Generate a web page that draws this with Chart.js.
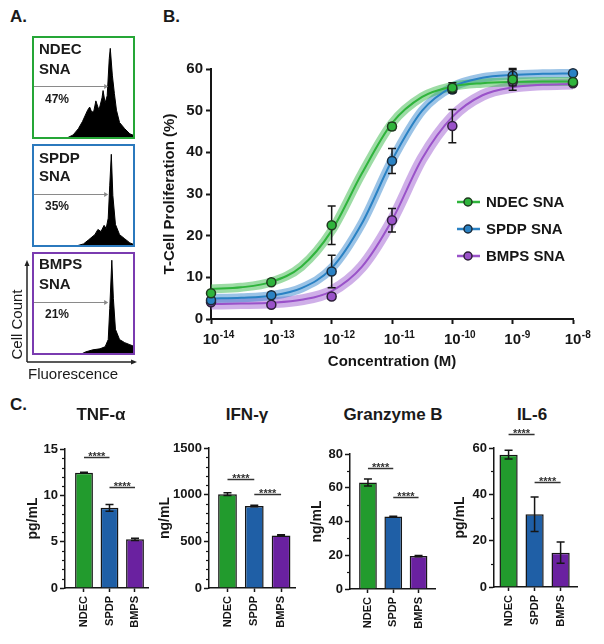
<!DOCTYPE html>
<html>
<head>
<meta charset="utf-8">
<title>SNA T-cell proliferation and cytokines</title>
<script src="https://cdn.jsdelivr.net/npm/chart.js@4.4.0/dist/chart.umd.min.js"></script>
<style>
  html, body { margin: 0; padding: 0; background: #fff; }
  body { position: relative; width: 604px; height: 644px; overflow: hidden; font-family: "Liberation Sans", Arial, sans-serif; color: #1a1a1a; }
  canvas { position: absolute; }
  .txt { position: absolute; font-weight: bold; line-height: 1; white-space: nowrap; }
  .box { position: absolute; box-sizing: border-box; border: 2px solid; left: 32px; width: 103px; height: 103px; z-index: 2; }
  .ctitle { position: absolute; font-weight: bold; font-size: 17px; line-height: 1; width: 140px; text-align: center; top: 406px; }
  .plain { position: absolute; font-size: 15px; line-height: 15px; white-space: nowrap; }
</style>
</head>
<body>
<div class="txt" style="left:10px;top:8px;font-size:17px">A.</div>
<div class="txt" style="left:163px;top:8px;font-size:17px">B.</div>
<div class="txt" style="left:10px;top:396px;font-size:17px">C.</div>

<!-- A: flow histograms -->
<canvas id="histNdec" width="103" height="103" style="left:32px;top:36px"></canvas>
<div class="box" style="top:36px;border-color:#25a636"></div>
<div class="txt" style="left:39px;top:41px;font-size:15px">NDEC</div>
<div class="txt" style="left:39px;top:61px;font-size:15px">SNA</div>
<div class="txt" style="left:45px;top:93px;font-size:12px">47%</div>

<canvas id="histSpdp" width="103" height="103" style="left:32px;top:144px"></canvas>
<div class="box" style="top:144px;border-color:#2b79bd"></div>
<div class="txt" style="left:39px;top:150px;font-size:15px">SPDP</div>
<div class="txt" style="left:39px;top:168px;font-size:15px">SNA</div>
<div class="txt" style="left:45px;top:200px;font-size:12px">35%</div>

<canvas id="histBmps" width="103" height="103" style="left:32px;top:252px"></canvas>
<div class="box" style="top:252px;border-color:#7a3bb0"></div>
<div class="txt" style="left:39px;top:256px;font-size:15px">BMPS</div>
<div class="txt" style="left:39px;top:276px;font-size:15px">SNA</div>
<div class="txt" style="left:45px;top:308px;font-size:12px">21%</div>

<svg style="position:absolute;left:0;top:255px" width="145" height="115">
  <line x1="27" y1="107" x2="27" y2="10" stroke="#222" stroke-width="1.5"/>
  <polygon points="27,5 24.5,11 29.5,11" fill="#222"/>
  <line x1="27" y1="107" x2="132" y2="107" stroke="#222" stroke-width="1.5"/>
  <polygon points="137,107 131,104.5 131,109.5" fill="#222"/>
</svg>
<div class="plain" style="left:-34px;top:317px;width:100px;text-align:center;transform:rotate(-90deg)">Cell Count</div>
<div class="plain" style="left:28px;top:366px">Fluorescence</div>

<!-- B: dose response -->
<canvas id="doseChart" width="460" height="345" style="left:140px;top:40px"></canvas>

<!-- C: cytokines -->
<div class="ctitle" style="left:31px">TNF-α</div>
<div class="ctitle" style="left:177px">IFN-γ</div>
<div class="ctitle" style="left:323px">Granzyme B</div>
<div class="ctitle" style="left:462px">IL-6</div>
<canvas id="tnfChart" width="160" height="219" style="left:0px;top:425px"></canvas>
<canvas id="ifnChart" width="162" height="219" style="left:145px;top:425px"></canvas>
<canvas id="grzChart" width="152" height="219" style="left:295px;top:425px"></canvas>
<canvas id="il6Chart" width="144" height="219" style="left:445px;top:425px"></canvas>

<script>
// ---- panel A: histograms (fluorescence channel 0-100, relative count) ----
var ndecHistX = [0, 30, 34, 40, 45, 49, 54, 56, 58, 60, 62, 65, 68, 69, 71, 73, 75, 76, 78, 80, 82, 85, 90, 95, 100];
var ndecHistY = [0, 0, 1, 4, 10, 17, 28, 31, 26, 27, 37, 28, 40, 47, 35, 42, 78, 88, 62, 44, 28, 16, 10, 5, 3];
var spdpHistX = [0, 41, 43, 50, 55, 61, 64, 67, 70, 72, 74, 75.5, 77, 78.5, 81, 85, 90, 95, 100];
var spdpHistY = [0, 0, 1, 3, 7, 12, 17, 15, 21, 18, 28, 60, 90, 50, 22, 12, 8, 4, 2];
var bmpsHistX = [0, 46, 48, 52, 59, 66, 71, 74, 75.5, 77.5, 79, 81, 85, 90, 95, 100];
var bmpsHistY = [0, 0, 1, 3, 5, 6, 8, 15, 45, 92, 55, 25, 15, 12, 10, 8];
var gateEnd = 73;
var gateLevel = 51;

// ---- panel B: T-cell proliferation vs concentration ----
var concentrations = [1e-14, 1e-13, 1e-12, 1e-11, 1e-10, 1e-9, 1e-8];
var concExponents = ['-14', '-13', '-12', '-11', '-10', '-9', '-8'];
var ndecProlif = [6.2, 8.8, 22.5, 46.2, 55.5, 57.5, 56.9];
var ndecProlifErr = [0.3, 0.3, 4.6, 0.8, 1.2, 2.6, 0.3];
var spdpProlif = [4.5, 5.7, 11.4, 37.9, 55.1, 58.4, 59.0];
var spdpProlifErr = [0.3, 0.3, 3.9, 3.0, 0.6, 1.4, 0.3];
var bmpsProlif = [4.0, 3.4, 5.4, 23.7, 46.3, 57.0, 56.6];
var bmpsProlifErr = [0.3, 0.3, 0.6, 2.8, 4.0, 1.0, 0.3];
// fitted curves every half decade
var fitConc = [1e-14, 3.16e-14, 1e-13, 3.16e-13, 1e-12, 3.16e-12, 1e-11, 3.16e-11, 1e-10, 3.16e-10, 1e-9, 3.16e-9, 1e-8];
var ndecFit = [7.2, 7.6, 8.9, 12.6, 21.2, 34.9, 47.0, 53.3, 55.8, 56.6, 56.9, 57.0, 57.0];
var spdpFit = [4.9, 5.1, 5.6, 7.4, 12.2, 22.9, 38.1, 50.0, 55.7, 57.9, 58.6, 58.85, 58.95];
var bmpsFit = [3.6, 3.7, 3.9, 4.6, 6.7, 12.5, 23.7, 38.5, 48.5, 53.7, 55.6, 56.2, 56.4];

// ---- panel C: cytokines ----
var groups = ['NDEC', 'SPDP', 'BMPS'];
var tnfMeans = [12.45, 8.65, 5.25];
var tnfErrs = [0.05, 0.37, 0.12];
var ifnMeans = [1005, 879, 562];
var ifnErrs = [15, 8, 8];
var grzMeans = [63.1, 42.9, 19.5];
var grzErrs = [2.1, 0.2, 0.4];
var il6Means = [57.1, 31.4, 14.8];
var il6Errs = [1.9, 7.4, 4.6];
// significance brackets: [from group, to group, height]
var tnfSig = [[1, 2, 14.1], [2, 3, 10.9]];
var ifnSig = [[1, 2, 1170], [2, 3, 1012]];
var grzSig = [[1, 2, 71.5], [2, 3, 54.6]];
var il6Sig = [[1, 2, 66.2], [2, 3, 45.3]];

Chart.defaults.font.family = '"Liberation Sans", Arial, sans-serif';
Chart.defaults.color = '#1a1a1a';

var ink = '#161616';
var boldFont = function (size) { return { size: size, weight: 'bold', family: '"Liberation Sans", Arial, sans-serif' }; };

// grey gate arrow over a histogram
var gatePlugin = {
  id: 'gate',
  afterDatasetsDraw: function (chart, args, opts) {
    var ctx = chart.ctx;
    var x0 = chart.scales.x.getPixelForValue(0);
    var x1 = chart.scales.x.getPixelForValue(opts.end);
    var y = Math.round(chart.scales.y.getPixelForValue(opts.level)) + 0.5;
    ctx.save();
    ctx.strokeStyle = '#8a8a8a';
    ctx.fillStyle = '#8a8a8a';
    ctx.lineWidth = 1;
    ctx.beginPath(); ctx.moveTo(x0, y); ctx.lineTo(x1, y); ctx.stroke();
    ctx.beginPath(); ctx.moveTo(x1 + 1, y); ctx.lineTo(x1 - 3, y - 2.5); ctx.lineTo(x1 - 3, y + 2.5); ctx.closePath(); ctx.fill();
    ctx.restore();
  }
};

function histogram(id, xs, ys) {
  return new Chart(document.getElementById(id), {
    type: 'line',
    data: {
      datasets: [{
        data: xs.map(function (x, i) { return { x: x, y: ys[i] }; }),
        borderColor: '#000', borderWidth: 1, backgroundColor: '#000',
        fill: 'origin', pointRadius: 0, tension: 0
      }]
    },
    options: {
      responsive: false, animation: false, events: [],
      layout: { padding: 0 },
      plugins: { legend: { display: false }, tooltip: { enabled: false }, gate: { end: gateEnd, level: gateLevel } },
      scales: {
        x: { type: 'linear', min: 0, max: 100, display: false },
        y: { min: 0, max: 100, display: false }
      }
    },
    plugins: [gatePlugin]
  });
}

histogram('histNdec', ndecHistX, ndecHistY);
histogram('histSpdp', spdpHistX, spdpHistY);
histogram('histBmps', bmpsHistX, bmpsHistY);

// error bars; drawn under the markers for the dose chart, over the bars for panel C
var errorBarPlugin = {
  id: 'errorBars',
  beforeDatasetDraw: function (chart, args, opts) { if (opts.under) drawErrors(chart, args.meta, opts.cap); },
  afterDatasetDraw: function (chart, args, opts) { if (!opts.under) drawErrors(chart, args.meta, opts.cap); }
};

function drawErrors(chart, meta, cap) {
  var ds = chart.data.datasets[meta.index];
  if (!ds.errors) return;
  var ctx = chart.ctx, ys = chart.scales.y;
  ctx.save();
  ctx.strokeStyle = ink;
  ctx.lineWidth = 1.5;
  meta.data.forEach(function (el, i) {
    var e = ds.errors[i];
    if (!e) return;
    var v = ds.data[i].y;
    var top = ys.getPixelForValue(v + e), bot = ys.getPixelForValue(v - e);
    ctx.beginPath();
    ctx.moveTo(el.x, top); ctx.lineTo(el.x, bot);
    ctx.moveTo(el.x - cap, top); ctx.lineTo(el.x + cap, top);
    ctx.moveTo(el.x - cap, bot); ctx.lineTo(el.x + cap, bot);
    ctx.stroke();
  });
  ctx.restore();
}

// legend drawn inside the plot area
var doseLegendPlugin = {
  id: 'doseLegend',
  afterDraw: function (chart, args, opts) {
    var ctx = chart.ctx, a = chart.chartArea;
    var items = chart.data.datasets.filter(function (d) { return d.legendItem; });
    ctx.save();
    items.forEach(function (d, i) {
      var cx = a.left + opts.x, cy = a.top + opts.y + i * opts.rowGap;
      ctx.strokeStyle = d.pointBackgroundColor;
      ctx.lineWidth = 2.5;
      ctx.beginPath(); ctx.moveTo(cx - 11, cy); ctx.lineTo(cx + 12, cy); ctx.stroke();
      ctx.beginPath(); ctx.arc(cx, cy, 4, 0, Math.PI * 2);
      ctx.fillStyle = d.pointBackgroundColor; ctx.fill();
      ctx.strokeStyle = d.pointBorderColor; ctx.lineWidth = 1.5; ctx.stroke();
      ctx.fillStyle = ink;
      ctx.font = 'bold 15px "Liberation Sans", Arial, sans-serif';
      ctx.textBaseline = 'middle';
      ctx.textAlign = 'left';
      ctx.fillText(d.label, cx + 18, cy + 1);
    });
    ctx.restore();
  }
};

// raised exponents next to the "10" tick labels of the log axis
var exponentPlugin = {
  id: 'exponents',
  afterDraw: function (chart, args, opts) {
    var sx = chart.scales.x, ctx = chart.ctx;
    var o = sx.options;
    var base = o.ticks.font.size;
    var midY = sx.top + o.grid.tickLength + o.ticks.padding + base * 0.6;
    ctx.save();
    ctx.font = 'bold ' + base + 'px "Liberation Sans", Arial, sans-serif';
    var half = ctx.measureText('10').width / 2;
    ctx.font = 'bold 10px "Liberation Sans", Arial, sans-serif';
    ctx.fillStyle = ink;
    ctx.textAlign = 'left';
    ctx.textBaseline = 'middle';
    sx.ticks.forEach(function (t, i) {
      ctx.fillText(opts.labels[i], sx.getPixelForTick(i) + half + 0.5, midY - 5);
    });
    ctx.restore();
  }
};

var doseSeries = [
  { label: 'NDEC SNA', fit: ndecFit, obs: ndecProlif, err: ndecProlifErr, line: '#2fb43c', band: 'rgba(60,185,75,0.5)', bandWidth: 9, edge: '#1f3a1f' },
  { label: 'SPDP SNA', fit: spdpFit, obs: spdpProlif, err: spdpProlifErr, line: '#2a82c4', band: 'rgba(55,135,205,0.5)', bandWidth: 9, edge: '#1b2b3b' },
  { label: 'BMPS SNA', fit: bmpsFit, obs: bmpsProlif, err: bmpsProlifErr, line: '#9a52c9', band: 'rgba(160,95,210,0.5)', bandWidth: 11, edge: '#2e1f3a' }
];

var doseDatasets = [];
doseSeries.forEach(function (s) {
  var fitPts = fitConc.map(function (c, i) { return { x: c, y: s.fit[i] }; });
  doseDatasets.push({ label: s.label + ' CI', data: fitPts, borderColor: s.band, borderWidth: s.bandWidth, borderCapStyle: 'butt', pointRadius: 0, fill: false, cubicInterpolationMode: 'monotone', order: 3 });
  doseDatasets.push({ label: s.label + ' fit', data: fitPts, borderColor: s.line, borderWidth: 2, pointRadius: 0, fill: false, cubicInterpolationMode: 'monotone', order: 2 });
  doseDatasets.push({
    label: s.label, legendItem: true, errors: s.err, clip: false,
    data: concentrations.map(function (c, i) { return { x: c, y: s.obs[i] }; }),
    showLine: false, pointRadius: 4.5, pointBackgroundColor: s.line, pointBorderColor: s.edge, pointBorderWidth: 1.5, order: 1
  });
});

new Chart(document.getElementById('doseChart'), {
  type: 'line',
  data: { datasets: doseDatasets },
  options: {
    responsive: false, animation: false, events: [],
    layout: { padding: { top: 29, right: 27, left: 0, bottom: 0 } },
    plugins: {
      legend: { display: false }, tooltip: { enabled: false },
      errorBars: { under: true, cap: 4 },
      doseLegend: { x: 257, y: 133, rowGap: 27 },
      exponents: { labels: concExponents }
    },
    scales: {
      x: {
        type: 'logarithmic', min: 1e-14, max: 1e-8,
        afterBuildTicks: function (scale) { scale.ticks = concentrations.map(function (c) { return { value: c }; }); },
        afterFit: function (scale) { scale.height = 66; },
        ticks: { callback: function () { return '10'; }, font: boldFont(15), color: ink, padding: 7, maxRotation: 0, autoSkip: false },
        grid: { drawOnChartArea: false, tickLength: 5, tickWidth: 2, tickColor: ink },
        border: { color: ink, width: 2 },
        title: { display: true, text: 'Concentration (M)', font: boldFont(15), color: ink, padding: { top: 0, bottom: 14 } }
      },
      y: {
        min: 0, max: 60,
        afterFit: function (scale) { scale.width = 71; },
        ticks: { stepSize: 10, font: boldFont(15), color: ink, padding: 3 },
        grid: { drawOnChartArea: false, tickLength: 5, tickWidth: 2, tickColor: ink },
        border: { color: ink, width: 2 },
        title: { display: true, text: 'T-Cell Proliferation (%)', font: boldFont(15), color: ink, padding: { top: 21, bottom: 0 } }
      }
    }
  },
  plugins: [errorBarPlugin, doseLegendPlugin, exponentPlugin]
});

// short unlabelled ticks between the labelled ones
var minorTicksPlugin = {
  id: 'minorTicks',
  afterDraw: function (chart, args, opts) {
    var y = chart.scales.y, ctx = chart.ctx, x0 = chart.chartArea.left;
    ctx.save();
    ctx.strokeStyle = ink;
    ctx.lineWidth = 1.2;
    for (var v = y.min; v <= y.max + 1e-9; v += opts.step) {
      var r = v / opts.major;
      if (Math.abs(r - Math.round(r)) < 1e-6) continue;
      var py = Math.round(y.getPixelForValue(v)) + 0.5;
      ctx.beginPath(); ctx.moveTo(x0, py); ctx.lineTo(x0 - 3, py); ctx.stroke();
    }
    ctx.restore();
  }
};

// significance brackets with ****
var sigPlugin = {
  id: 'sigBars',
  afterDraw: function (chart, args, opts) {
    var ctx = chart.ctx, xs = chart.scales.x, ys = chart.scales.y;
    ctx.save();
    ctx.strokeStyle = '#333';
    ctx.fillStyle = '#333';
    ctx.lineWidth = 1.5;
    ctx.font = 'bold 11px "Liberation Sans", Arial, sans-serif';
    ctx.textAlign = 'center';
    ctx.textBaseline = 'alphabetic';
    opts.bars.forEach(function (b) {
      var xa = xs.getPixelForValue(b[0]), xb = xs.getPixelForValue(b[1]);
      var py = Math.round(ys.getPixelForValue(b[2])) + 0.5;
      ctx.beginPath(); ctx.moveTo(xa, py); ctx.lineTo(xb, py); ctx.stroke();
      ctx.fillText('****', (xa + xb) / 2, py + 2);
    });
    ctx.restore();
  }
};

var barColors = ['#229b2d', '#1f5fa6', '#6a21a0'];

function cytokineChart(id, unit, means, errs, sig, yMax, major, minor, geo) {
  return new Chart(document.getElementById(id), {
    type: 'bar',
    data: {
      datasets: [{
        data: means.map(function (m, i) { return { x: i + 1, y: m }; }),
        errors: errs,
        backgroundColor: barColors, borderColor: ink, borderWidth: 1.5,
        barPercentage: 0.7, categoryPercentage: 1
      }]
    },
    options: {
      responsive: false, animation: false, events: [],
      layout: { padding: { top: geo.top, right: geo.right, left: 0, bottom: 0 } },
      plugins: {
        legend: { display: false }, tooltip: { enabled: false },
        errorBars: { under: false, cap: 4 },
        minorTicks: { step: minor, major: major },
        sigBars: { bars: sig }
      },
      scales: {
        x: {
          type: 'linear', min: geo.xMin, max: geo.xMax, offset: false,
          afterBuildTicks: function (scale) { scale.ticks = groups.map(function (g, i) { return { value: i + 1 }; }); },
          afterFit: function (scale) { scale.height = geo.xHeight; },
          ticks: { callback: function (v) { return groups[v - 1]; }, font: boldFont(11), color: ink, minRotation: 90, maxRotation: 90, autoSkip: false, padding: 4 },
          grid: { drawOnChartArea: false, offset: false, tickLength: 4, tickWidth: 1.5, tickColor: ink },
          border: { color: ink, width: 1.5 }
        },
        y: {
          min: 0, max: yMax,
          afterFit: function (scale) { scale.width = geo.yWidth; },
          ticks: { stepSize: major, font: boldFont(13), color: ink, padding: 2, callback: function (v) { return String(v); } },
          grid: { drawOnChartArea: false, tickLength: 5, tickWidth: 1.5, tickColor: ink },
          border: { color: ink, width: 1.5 },
          title: { display: true, text: unit, font: boldFont(14), color: ink, padding: { top: geo.titlePad, bottom: 0 } }
        }
      }
    },
    plugins: [errorBarPlugin, minorTicksPlugin, sigPlugin]
  });
}

cytokineChart('tnfChart', 'pg/mL', tnfMeans, tnfErrs, tnfSig, 15, 5, 1,
  { top: 24, right: 12, yWidth: 65, xHeight: 56, titlePad: 24.6, xMin: 0.255, xMax: 3.51 });
cytokineChart('ifnChart', 'ng/mL', ifnMeans, ifnErrs, ifnSig, 1500, 500, 100,
  { top: 23, right: 12, yWidth: 64, xHeight: 56, titlePad: 11.6, xMin: 0.31, xMax: 3.52 });
cytokineChart('grzChart', 'ng/mL', grzMeans, grzErrs, grzSig, 80, 20, 10,
  { top: 29, right: 12, yWidth: 55, xHeight: 55, titlePad: 13.6, xMin: 0.29, xMax: 3.65 });
cytokineChart('il6Chart', 'pg/mL', il6Means, il6Errs, il6Sig, 60, 20, 10,
  { top: 23, right: 12, yWidth: 49, xHeight: 57, titlePad: 6.6, xMin: 0.44, xMax: 3.63 });
</script>
</body>
</html>
